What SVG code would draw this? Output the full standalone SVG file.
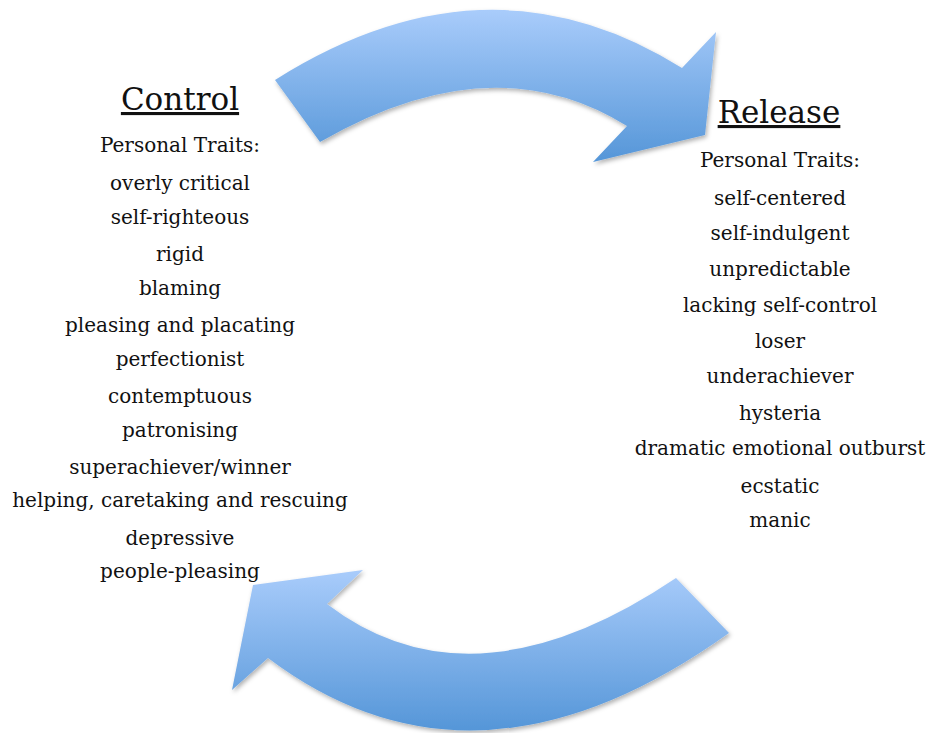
<svg xmlns="http://www.w3.org/2000/svg" width="931" height="733" viewBox="0 0 931 733">
<style>
text{font-family:"DejaVu Serif","Liberation Serif",serif;fill:#111;text-anchor:middle}
.t{font-size:31px;text-decoration:underline}
.l{font-size:20px}
.arrow{fill:url(#g);filter:url(#sh)}
</style>
<defs>
<linearGradient id="g" x1="0" y1="0" x2="0" y2="1">
<stop offset="0" stop-color="#a9ccfb"/>
<stop offset="1" stop-color="#5596d8"/>
</linearGradient>
<filter id="sh" x="-10%" y="-10%" width="120%" height="130%">
<feDropShadow dx="1.5" dy="2.5" stdDeviation="2" flood-color="#000" flood-opacity="0.3"/>
</filter>
</defs>
<g id="connectors">
<path class="arrow" d="M275,80 Q487.5,-54 682,68 L716,32 L705,135 L593,162 L627,126 Q492.5,42 320,142 Z"/>
<path class="arrow" d="M676,578 L729,633 Q475.5,814.5 268,658 L232,690 L253,585 L363,570 L327,604 Q472.5,715 676,578 Z"/>
</g>
<g id="control">
<text class="t" x="180" y="110">Control</text>
<text class="l" x="180" y="152">Personal Traits:</text>
<text class="l" x="180" y="190">overly critical</text>
<text class="l" x="180" y="224">self-righteous</text>
<text class="l" x="180" y="261">rigid</text>
<text class="l" x="180" y="295">blaming</text>
<text class="l" x="180" y="332">pleasing and placating</text>
<text class="l" x="180" y="366">perfectionist</text>
<text class="l" x="180" y="403">contemptuous</text>
<text class="l" x="180" y="437">patronising</text>
<text class="l" x="180" y="474">superachiever/winner</text>
<text class="l" x="180" y="507">helping, caretaking and rescuing</text>
<text class="l" x="180" y="545">depressive</text>
<text class="l" x="180" y="578">people-pleasing</text>
</g>
<g id="release">
<text class="t" x="779" y="123">Release</text>
<text class="l" x="780" y="167">Personal Traits:</text>
<text class="l" x="780" y="205">self-centered</text>
<text class="l" x="780" y="240">self-indulgent</text>
<text class="l" x="780" y="276">unpredictable</text>
<text class="l" x="780" y="312">lacking self-control</text>
<text class="l" x="780" y="348">loser</text>
<text class="l" x="780" y="383">underachiever</text>
<text class="l" x="780" y="420">hysteria</text>
<text class="l" x="780" y="455">dramatic emotional outburst</text>
<text class="l" x="780" y="493">ecstatic</text>
<text class="l" x="780" y="527">manic</text>
</g>
</svg>
